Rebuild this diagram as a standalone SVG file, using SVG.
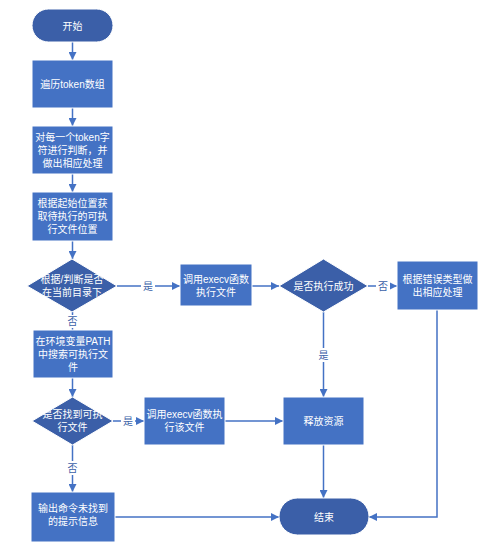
<svg xmlns="http://www.w3.org/2000/svg" width="500" height="560" viewBox="0 0 500 560">
<defs>
<marker id="arr" viewBox="0 0 10 10" refX="10" refY="5" markerWidth="8" markerHeight="8" markerUnits="userSpaceOnUse" orient="auto">
<path d="M0,0 L10,5 L0,10 z" fill="#4472C4"/>
</marker>
<style>
.box{fill:#4472C4;stroke:#ffffff;stroke-width:1}
.dark{fill:#3B5FA8;stroke:#ffffff;stroke-width:1}
.t{font-family:"Liberation Sans","Noto Sans CJK SC",sans-serif;font-size:10px;fill:#ffffff;text-anchor:middle}
.lbl{font-family:"Liberation Sans","Noto Sans CJK SC",sans-serif;font-size:10px;fill:#3B5FA8;text-anchor:middle}
.c{fill:none;stroke:#4472C4;stroke-width:1.5;marker-end:url(#arr)}
.cl{fill:none;stroke:#4472C4;stroke-width:1.5}
.bg{fill:#ffffff}
</style>
</defs>
<rect width="500" height="560" fill="#ffffff"/>
<g id="connectors">
<path class="c" d="M72.5,42 V60"/>
<path class="c" d="M72.5,108 V126"/>
<path class="c" d="M72.5,174 V192"/>
<path class="c" d="M72.5,241 V259"/>
<path class="c" d="M117,286 H180"/>
<path class="c" d="M252,286 H279"/>
<path class="c" d="M368,286 H397"/>
<path class="cl" d="M72.5,312 V330"/>
<path class="c" d="M323.5,312 V397"/>
<path class="c" d="M72.5,378 V397"/>
<path class="c" d="M113,421 H144"/>
<path class="c" d="M225,421 H283"/>
<path class="c" d="M72.5,445 V492"/>
<path class="c" d="M323.5,445 V498"/>
<path class="c" d="M115,517 H279"/>
<path class="c" d="M437,310 V517 H369"/>
</g>
<g id="labels">
<rect class="bg" x="141" y="279" width="14" height="14"/>
<text class="lbl" x="148" y="290">是</text>
<rect class="bg" x="376" y="279" width="14" height="14"/>
<text class="lbl" x="383" y="290">否</text>
<rect class="bg" x="65" y="315" width="14" height="13"/>
<text class="lbl" x="72.5" y="325">否</text>
<rect class="bg" x="316" y="348" width="14" height="14"/>
<text class="lbl" x="323.5" y="359">是</text>
<rect class="bg" x="121" y="414" width="14" height="14"/>
<text class="lbl" x="128" y="425">是</text>
<rect class="bg" x="65" y="461" width="14" height="14"/>
<text class="lbl" x="72.5" y="472">否</text>
</g>
<g id="start">
<rect class="dark" x="32" y="9" width="81" height="33" rx="16.5"/>
<text class="t" x="72.5" y="29.5">开始</text>
</g>
<g id="traverse">
<rect class="box" x="32" y="60" width="81" height="48"/>
<text class="t" x="72.5" y="88">遍历token数组</text>
</g>
<g id="judge-token">
<rect class="box" x="32" y="126" width="81" height="48"/>
<text class="t" x="72.5" y="141">对每一个token字</text>
<text class="t" x="72.5" y="154">符进行判断，并</text>
<text class="t" x="72.5" y="167">做出相应处理</text>
</g>
<g id="get-pos">
<rect class="box" x="32" y="192" width="81" height="49"/>
<text class="t" x="72.5" y="207">根据起始位置获</text>
<text class="t" x="72.5" y="220">取待执行的可执</text>
<text class="t" x="72.5" y="233">行文件位置</text>
</g>
<g id="in-cwd">
<polygon class="dark" points="72,259 117,286 72,312 27,286"/>
<text class="t" x="72" y="283">根据/判断是否</text>
<text class="t" x="72" y="296">在当前目录下</text>
</g>
<g id="execv1">
<rect class="box" x="180" y="264" width="72" height="42"/>
<text class="t" x="216" y="283">调用execv函数</text>
<text class="t" x="216" y="296">执行文件</text>
</g>
<g id="success">
<polygon class="dark" points="323.5,259 368,286 323.5,312 279,286"/>
<text class="t" x="323.5" y="290">是否执行成功</text>
</g>
<g id="handle-error">
<rect class="box" x="397" y="261" width="81" height="49"/>
<text class="t" x="437.5" y="283">根据错误类型做</text>
<text class="t" x="437.5" y="296">出相应处理</text>
</g>
<g id="search-path">
<rect class="box" x="33" y="330" width="80" height="48"/>
<text class="t" x="73" y="345">在环境变量PATH</text>
<text class="t" x="73" y="358">中搜索可执行文</text>
<text class="t" x="73" y="371">件</text>
</g>
<g id="found">
<polygon class="dark" points="72.5,397 113,421 72.5,445 32,421"/>
<text class="t" x="72.5" y="418">是否找到可执</text>
<text class="t" x="72.5" y="431">行文件</text>
</g>
<g id="execv2">
<rect class="box" x="144" y="397" width="81" height="48"/>
<text class="t" x="184.5" y="418">调用execv函数执</text>
<text class="t" x="184.5" y="431">行该文件</text>
</g>
<g id="release">
<rect class="box" x="283" y="397" width="81" height="48"/>
<text class="t" x="323.5" y="425">释放资源</text>
</g>
<g id="not-found">
<rect class="box" x="31" y="492" width="84" height="50"/>
<text class="t" x="73" y="512">输出命令未找到</text>
<text class="t" x="73" y="525">的提示信息</text>
</g>
<g id="end">
<rect class="dark" x="279" y="498" width="90" height="37" rx="18.5"/>
<text class="t" x="324" y="520.5">结束</text>
</g>
</svg>
